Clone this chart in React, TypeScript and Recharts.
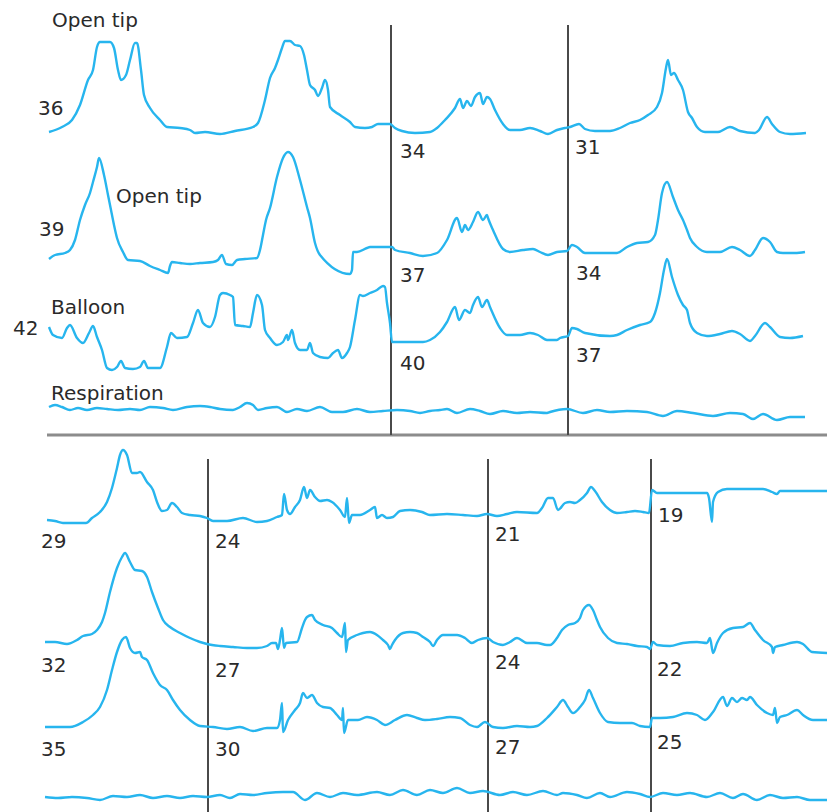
import React from 'react';
import { LineChart, Line, XAxis, YAxis, ReferenceLine, Scatter } from 'recharts';

type Pt = [number, number];

// ---- Top panel: [time, pressure above resting level] ----
const topOpenTipA: Pt[] = [
  [49,0],[62,5],[72,12],[80,27],[88,52],[93,62],[97,85],[100,90],[110,90],[114,84],
  [118,62],[121,52],[126,57],[130,72],[135,89],[137,89],[141,62],[144,37],[150,24],[160,12],
  [167,5],[180,4],[190,2],[195,-1],[205,0],[220,-2],[235,1],[253,5],[258,9],[265,32],
  [270,54],[275,64],[278,72],[282,84],[285,91],[290,91],[295,87],[300,86],[304,77],[307,62],
  [310,47],[315,42],[318,36],[322,44],[325,52],[328,42],[330,25],[340,17],[350,10],[355,5],
  [365,4],[372,5],[378,8],[390,8],[395,4],[402,1],[415,-1],[430,0],[437,4],[445,12],
  [455,24],[460,33],[463,24],[467,31],[471,26],[475,35],[480,39],[483,28],[487,35],[490,33],
  [495,22],[503,8],[510,2],[520,2],[530,4],[540,1],[548,-2],[557,2],[565,4],[570,5],
  [579,8],[585,3],[595,1],[610,1],[620,4],[630,9],[640,12],[648,17],[657,25],[662,39],
  [666,64],[668,72],[671,57],[674,59],[678,52],[683,42],[688,20],[692,14],[697,5],[705,0],
  [718,0],[730,5],[740,1],[755,-1],[759,2],[767,15],[772,8],[780,0],[790,-2],[806,-1],
];

const topOpenTipB: Pt[] = [
  [49,-1],[55,3],[65,5],[70,8],[75,18],[80,38],[85,53],[90,65],[93,76],[97,91],
  [99,100],[104,83],[108,63],[111,48],[114,33],[117,20],[123,6],[128,-2],[140,-3],[150,-8],
  [160,-12],[168,-15],[170,-8],[172,-4],[180,-5],[190,-6],[200,-5],[213,-4],[218,-2],[222,3],
  [226,-6],[232,-7],[237,-2],[245,-1],[257,0],[260,8],[263,23],[266,38],[270,50],[277,81],
  [283,100],[288,106],[293,101],[300,78],[307,51],[310,40],[315,15],[320,3],[350,-16],[352,-12],
  [353,6],[357,6],[367,10],[370,11],[392,11],[395,8],[410,5],[423,2],[437,5],[447,18],
  [457,40],[462,26],[465,33],[468,28],[473,36],[478,46],[483,38],[487,43],[488,40],[493,28],
  [503,9],[510,6],[523,8],[533,9],[540,6],[548,3],[557,6],[567,7],[572,13],[577,11],
  [585,5],[617,5],[627,11],[637,15],[648,16],[655,23],[658,38],[662,65],[667,76],[673,61],
  [678,48],[683,38],[687,28],[690,20],[697,11],[707,6],[720,6],[732,11],[740,8],[750,2],
  [755,8],[763,20],[770,16],[777,6],[783,5],[795,5],[805,6],
];

const topBalloon: Pt[] = [
  [49,15],[53,7],[62,4],[67,14],[70,17],[77,4],[83,-1],[89,9],[93,16],[97,5],
  [102,-8],[107,-26],[112,-28],[117,-25],[121,-19],[125,-26],[133,-27],[140,-25],[144,-19],[148,-26],
  [160,-26],[167,-5],[171,9],[177,4],[187,5],[193,19],[198,32],[203,19],[210,15],[215,25],
  [220,47],[223,49],[230,47],[233,45],[235,17],[243,16],[250,15],[253,29],[257,47],[262,37],
  [265,12],[270,4],[277,-3],[283,0],[287,7],[288,2],[292,12],[295,-1],[300,-8],[307,-8],
  [310,-1],[313,-11],[320,-15],[328,-16],[333,-11],[338,-8],[342,-16],[347,-11],[350,-5],[355,22],
  [360,47],[363,46],[370,49],[377,52],[383,56],[385,55],[387,39],[390,19],[392,0],[403,0],
  [423,0],[430,2],[440,10],[447,20],[455,35],[459,22],[465,32],[470,29],[473,37],[478,45],
  [482,35],[487,42],[490,35],[500,14],[507,7],[520,7],[530,9],[538,7],[547,2],[557,2],
  [560,4],[568,6],[572,14],[577,13],[585,9],[610,6],[617,7],[627,12],[640,17],[650,20],
  [655,29],[660,49],[664,72],[667,83],[672,65],[678,47],[683,37],[687,32],[690,19],[697,9],
  [707,6],[720,8],[732,11],[740,8],[750,1],[755,6],[765,19],[770,15],[780,5],[790,4],[803,6],
];

const topRespiration: Pt[] = [
  [49,3],[55,5],[62,3],[70,0],[78,2],[87,0],[97,2],[107,1],[118,0],[130,1],
  [140,0],[150,3],[163,2],[173,0],[187,3],[200,4],[210,3],[220,1],[233,0],[240,3],
  [247,7],[253,5],[258,0],[267,2],[277,3],[287,-2],[297,1],[307,-1],[320,3],[332,-2],
  [343,-2],[357,1],[370,-2],[383,-1],[397,0],[410,-1],[420,-3],[430,-1],[440,0],[447,1],
  [457,-3],[470,1],[480,-1],[490,-4],[503,-1],[517,-3],[530,-2],[547,-3],[550,-2],[567,1],
  [583,-3],[597,0],[610,-2],[627,-1],[647,-2],[663,-6],[677,-1],[693,-3],[713,-6],[730,-3],
  [743,-4],[753,-9],[763,-4],[777,-10],[790,-7],[805,-7],
];

// ---- Bottom panel ----
const bottomTraceA: Pt[] = [
  [47,0],[55,-1],[63,-3],[73,-3],[86,-3],[92,2],[100,8],[107,18],[112,32],[117,52],
  [120,65],[123,70],[127,65],[132,47],[137,47],[140,48],[147,38],[153,30],[157,18],[162,9],
  [167,10],[172,17],[177,13],[182,7],[190,5],[200,4],[207,2],[213,-1],[227,-1],[243,2],
  [257,-2],[267,-1],[277,3],[282,5],[284,26],[287,10],[290,6],[295,13],[300,20],[304,33],
  [307,22],[310,30],[315,23],[320,19],[327,20],[332,18],[340,10],[345,3],[347,22],[349,-3],
  [352,5],[360,5],[370,10],[375,13],[377,2],[382,5],[387,2],[393,3],[400,9],[410,10],
  [422,8],[430,5],[447,6],[463,5],[477,4],[487,6],[497,4],[507,6],[517,8],[537,7],
  [542,12],[548,22],[553,22],[558,10],[565,17],[570,18],[575,17],[580,20],[587,27],[591,33],
  [595,29],[602,18],[610,10],[617,7],[627,8],[635,9],[643,8],[649,7],[652,30],[657,27],
  [670,27],[707,27],[709,22],[712,-2],[713,18],[718,28],[727,31],[763,31],[772,28],[777,26],
  [780,29],[790,29],[827,29],
];

const bottomTraceB: Pt[] = [
  [45,3],[55,3],[67,1],[77,5],[83,9],[92,11],[97,15],[102,23],[105,32],[110,53],
  [117,77],[122,88],[125,92],[130,83],[135,75],[142,74],[147,68],[152,53],[158,37],[163,25],
  [170,18],[180,12],[190,7],[200,3],[207,1],[220,-1],[233,-2],[247,-3],[257,-3],[267,-1],
  [272,2],[276,2],[278,-4],[280,5],[282,17],[284,-3],[286,2],[297,3],[302,17],[305,25],
  [307,28],[312,30],[315,25],[323,20],[332,17],[337,12],[342,8],[345,22],[346,-7],[348,5],
  [357,10],[363,12],[370,13],[377,10],[383,5],[388,0],[390,-4],[392,0],[395,5],[403,12],
  [410,13],[417,12],[423,8],[430,3],[433,-1],[437,5],[443,10],[457,10],[465,7],[472,2],
  [478,5],[487,7],[493,3],[503,0],[510,3],[517,7],[527,2],[537,2],[547,0],[550,0],
  [557,7],[562,15],[568,20],[575,22],[580,27],[583,35],[589,40],[593,35],[597,25],[600,18],
  [608,7],[617,2],[627,1],[637,-1],[647,-2],[650,-4],[653,3],[657,0],[670,-1],[683,2],
  [697,3],[707,2],[710,7],[713,-8],[717,2],[723,12],[733,17],[743,18],[750,22],[755,15],
  [763,5],[772,-2],[773,-8],[775,-2],[783,0],[797,3],[803,1],[812,-7],[827,-8],
];

const bottomTraceC: Pt[] = [
  [45,0],[55,0],[70,0],[83,5],[93,12],[100,20],[107,37],[112,57],[117,75],[122,87],
  [126,90],[130,79],[135,74],[140,75],[142,70],[147,67],[153,54],[160,42],[167,37],[173,27],
  [180,17],[190,7],[200,1],[213,0],[227,-2],[240,0],[253,-4],[267,-1],[277,-1],[280,7],
  [282,24],[283,-5],[288,7],[295,17],[300,24],[303,34],[307,29],[312,32],[317,24],[323,20],
  [330,19],[337,12],[342,7],[343,19],[344,-6],[348,7],[358,7],[367,10],[377,7],[385,2],
  [395,7],[407,12],[417,9],[425,7],[437,8],[450,10],[460,9],[470,2],[477,0],[485,5],
  [493,0],[503,-1],[517,1],[530,0],[537,1],[547,9],[557,20],[563,27],[568,20],[573,14],
  [580,20],[585,27],[589,37],[593,29],[600,14],[608,5],[620,4],[632,4],[640,1],[650,0],
  [652,9],[660,9],[673,10],[687,14],[697,12],[705,7],[713,15],[723,30],[727,21],[732,29],
  [737,25],[742,29],[747,27],[750,30],[757,22],[767,14],[773,12],[775,19],[777,4],[780,10],
  [787,12],[797,17],[803,12],[813,7],[827,7],
];

const bottomRespiration: Pt[] = [
  [45,0],[58,-1],[72,0],[87,-1],[100,-3],[113,1],[127,0],[140,2],[153,-1],[167,1],
  [180,-1],[193,1],[207,0],[220,2],[230,-1],[240,3],[253,2],[267,4],[283,5],[293,5],
  [305,-3],[317,4],[330,0],[343,4],[357,2],[377,5],[390,2],[403,7],[417,2],[430,7],
  [443,4],[457,9],[470,4],[483,6],[500,2],[513,5],[527,2],[543,6],[557,2],[563,4],
  [577,2],[587,-1],[600,4],[610,0],[627,5],[640,3],[650,0],[663,4],[677,2],[690,4],
  [707,0],[720,4],[733,-1],[743,3],[757,-3],[770,2],[783,-1],[797,0],[810,-3],[827,-3],
];

// segment start readings
const topLabels = ['36', '39', '42', '34', '37', '40', '31', '34', '37'];
const bottomLabels = ['29', '32', '35', '24', '27', '30', '21', '24', '27', '19', '22', '25'];
const channelNames = ['Open tip', 'Open tip', 'Balloon', 'Respiration'];

// ---- layout ----
const W = 827;
const H = 812;
const TRACE = '#27b5ee';
const FONT = 'DejaVu Sans';

const lanes = {
  tA: 680, tB: 554, tC: 470, tR: 402,
  bA: 292, bB: 167, bC: 85, bR: 15,
};

const series = (pts: Pt[], lane: number) => pts.map(([t, p]) => ({ t, v: lane + p }));

const topDividers = [391, 568];
const bottomDividers = [208, 488, 651];
const topSpan = [377, 787];
const bottomSpan = [0, 353];
const panelRule = { y: 377, from: 47, to: 827 };

const textAt = (text: string, t: number, v: number) => ({ text, t, v });

const annotations = [
  textAt(channelNames[0], 52, 785),
  textAt(channelNames[1], 116, 609),
  textAt(channelNames[2], 51, 498),
  textAt(channelNames[3], 51, 412),
  textAt(topLabels[0], 38, 697),
  textAt(topLabels[1], 39, 576),
  textAt(topLabels[2], 13, 477),
  textAt(topLabels[3], 400, 654),
  textAt(topLabels[4], 400, 530),
  textAt(topLabels[5], 400, 442),
  textAt(topLabels[6], 575, 658),
  textAt(topLabels[7], 576, 532),
  textAt(topLabels[8], 576, 450),
  textAt(bottomLabels[0], 41, 264),
  textAt(bottomLabels[1], 41, 140),
  textAt(bottomLabels[2], 41, 56),
  textAt(bottomLabels[3], 215, 264),
  textAt(bottomLabels[4], 215, 135),
  textAt(bottomLabels[5], 215, 56),
  textAt(bottomLabels[6], 495, 271),
  textAt(bottomLabels[7], 495, 143),
  textAt(bottomLabels[8], 495, 58),
  textAt(bottomLabels[9], 658, 290),
  textAt(bottomLabels[10], 657, 136),
  textAt(bottomLabels[11], 657, 63),
];

const TextShape = (props: any) => (
  <text
    x={props.cx}
    y={props.cy}
    fontFamily={FONT}
    fontSize={20}
    fill="#2a2a2a"
    textAnchor="start"
  >
    {props.payload.text}
  </text>
);

const traces = [
  { key: 'tA', pts: topOpenTipA, lane: lanes.tA },
  { key: 'tB', pts: topOpenTipB, lane: lanes.tB },
  { key: 'tC', pts: topBalloon, lane: lanes.tC },
  { key: 'tR', pts: topRespiration, lane: lanes.tR },
  { key: 'bA', pts: bottomTraceA, lane: lanes.bA },
  { key: 'bB', pts: bottomTraceB, lane: lanes.bB },
  { key: 'bC', pts: bottomTraceC, lane: lanes.bC },
  { key: 'bR', pts: bottomRespiration, lane: lanes.bR },
];

export default function App() {
  return (
    <div style={{ position: 'absolute', left: 0, top: 0, width: W, height: H, background: '#fff' }}>
      <LineChart width={W} height={H} margin={{ top: 0, right: 0, bottom: 0, left: 0 }}>
        <XAxis type="number" dataKey="t" domain={[0, W]} hide allowDataOverflow />
        <YAxis type="number" dataKey="v" domain={[0, H]} hide allowDataOverflow />
        <ReferenceLine
          segment={[{ x: panelRule.from, y: panelRule.y }, { x: panelRule.to, y: panelRule.y }]}
          stroke="#8c8c8c"
          strokeWidth={3}
          ifOverflow="visible"
        />
        {topDividers.map((d) => (
          <ReferenceLine
            key={'td' + d}
            segment={[{ x: d, y: topSpan[0] }, { x: d, y: topSpan[1] }]}
            stroke="#4a4a4a"
            strokeWidth={2}
            ifOverflow="visible"
          />
        ))}
        {bottomDividers.map((d) => (
          <ReferenceLine
            key={'bd' + d}
            segment={[{ x: d, y: bottomSpan[0] }, { x: d, y: bottomSpan[1] }]}
            stroke="#4a4a4a"
            strokeWidth={2}
            ifOverflow="visible"
          />
        ))}
        {traces.map((tr) => (
          <Line
            key={tr.key}
            data={series(tr.pts, tr.lane)}
            dataKey="v"
            type="monotone"
            stroke={TRACE}
            strokeWidth={2.4}
            strokeLinejoin="round"
            dot={false}
            activeDot={false}
            isAnimationActive={false}
          />
        ))}
        <Scatter data={annotations} dataKey="v" shape={TextShape} isAnimationActive={false} />
      </LineChart>
    </div>
  );
}
